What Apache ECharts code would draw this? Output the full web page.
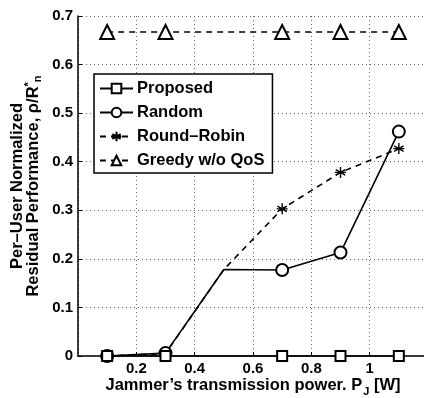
<!DOCTYPE html>
<html>
<head>
<meta charset="utf-8">
<title>Residual performance vs jammer power</title>
<script src="https://cdn.jsdelivr.net/npm/echarts@6/dist/echarts.min.js"></script>
<style>
    html, body { margin: 0; padding: 0; background: #fff; }
    #chart { width: 424px; height: 398px; }
</style>
</head>
<body>
<div id="chart"></div>
<script>
// x positions (jammer power, W)
const powerW = [0.1, 0.3, 0.5, 0.7, 0.9, 1.1];
// per-user normalized residual performance
const proposed   = [0, 0, 0, 0, 0, 0];
const random     = [0, 0.006, 0.178, 0.177, 0.213, 0.462];
const roundRobin = [0, 0.005, 0.178, 0.303, 0.378, 0.427];
const greedy     = [0.667, 0.667, 0.667, 0.667, 0.667, 0.667];
// the original has no marker on the 0.5 W point
const unmarkedX = 0.5;

const FONT = '"Liberation Sans", Arial, sans-serif';
const asterisk = 'path://M5,0L5,10M0.7,2.5L9.3,7.5M0.7,7.5L9.3,2.5M0,5L10,5';

function toData(ys) {
    return powerW.map(function (x, i) {
        if (x === unmarkedX) return { value: [x, ys[i]], symbol: 'none' };
        return [x, ys[i]];
    });
}

function makeSeries(name, ys, symbol, size, dashed) {
    return {
        name: name,
        type: 'line',
        data: toData(ys),
        symbol: symbol,
        symbolSize: size,
        showAllSymbol: true,
        lineStyle: { color: '#000', width: 1.6, type: dashed ? [6, 5] : 'solid' },
        itemStyle: { color: '#000', borderColor: '#000', borderWidth: 1.4 }
    };
}

const bold = { fontFamily: FONT, fontWeight: 'bold', color: '#000' };

const chart = echarts.init(document.getElementById('chart'));

chart.setOption({
    animation: false,
    backgroundColor: '#fff',
    textStyle: { fontFamily: FONT },
    grid: { left: 78, right: -4, top: 16, bottom: 42, outerBoundsMode: 'none' },
    legend: {
        orient: 'vertical',
        left: 94,
        top: 74,
        padding: [6, 8, 4, 5],
        itemGap: 7,
        itemWidth: 33,
        itemHeight: 12,
        borderColor: '#000',
        borderWidth: 1.5,
        borderRadius: 0,
        backgroundColor: '#fff',
        textStyle: Object.assign({ fontSize: 16.5, padding: [0, 0, 0, -1] }, bold),
        data: ['Proposed', 'Random', 'Round–Robin', 'Greedy w/o QoS']
    },
    xAxis: {
        type: 'value',
        min: 0,
        max: 1.2,
        interval: 0.2,
        name: 'Jammer’s transmission power. P{sub|J} [W]',
        nameLocation: 'middle',
        nameGap: 17,
        nameMoveOverlap: false,
        nameTextStyle: Object.assign({
            fontSize: 16.5,
            rich: {
                sub: Object.assign({ fontSize: 11, padding: [13, 0, 0, 1] }, bold)
            }
        }, bold),
        axisLine: { lineStyle: { color: '#000', width: 1.5 } },
        axisTick: { inside: true, length: 4, lineStyle: { color: '#000' } },
        axisLabel: Object.assign({ showMinLabel: false, showMaxLabel: false, margin: 5, fontSize: 15 }, bold),
        splitLine: { show: true, lineStyle: { color: '#666', type: [1, 3], width: 1 } }
    },
    yAxis: {
        type: 'value',
        min: 0,
        max: 0.7,
        interval: 0.1,
        name: '{t|Per–User Normalized}\n{t|Residual Performance, ρ/R}{sup|*}{sub|n}',
        nameLocation: 'middle',
        nameRotate: 90,
        nameGap: 37,
        nameMoveOverlap: false,
        nameTextStyle: Object.assign({
            fontSize: 16.5,
            lineHeight: 16,
            rich: {
                t: Object.assign({ fontSize: 16.5, lineHeight: 16 }, bold),
                sup: Object.assign({ fontSize: 11, padding: [0, 0, 9, 0] }, bold),
                sub: Object.assign({ fontSize: 11, padding: [9, 0, 0, 0] }, bold)
            }
        }, bold),
        axisLine: { show: true, lineStyle: { color: '#000', width: 1.5 } },
        axisTick: { show: true, inside: true, length: 4, lineStyle: { color: '#000' } },
        axisLabel: Object.assign({ margin: 5, fontSize: 15 }, bold),
        splitLine: { show: true, lineStyle: { color: '#666', type: [1, 3], width: 1 } }
    },
    series: [
        makeSeries('Greedy w/o QoS', greedy, 'emptyTriangle', 14, true),
        makeSeries('Round–Robin', roundRobin, asterisk, 11, true),
        makeSeries('Random', random, 'emptyCircle', 12, false),
        makeSeries('Proposed', proposed, 'emptyRect', 10, false)
    ]
});
</script>
</body>
</html>
